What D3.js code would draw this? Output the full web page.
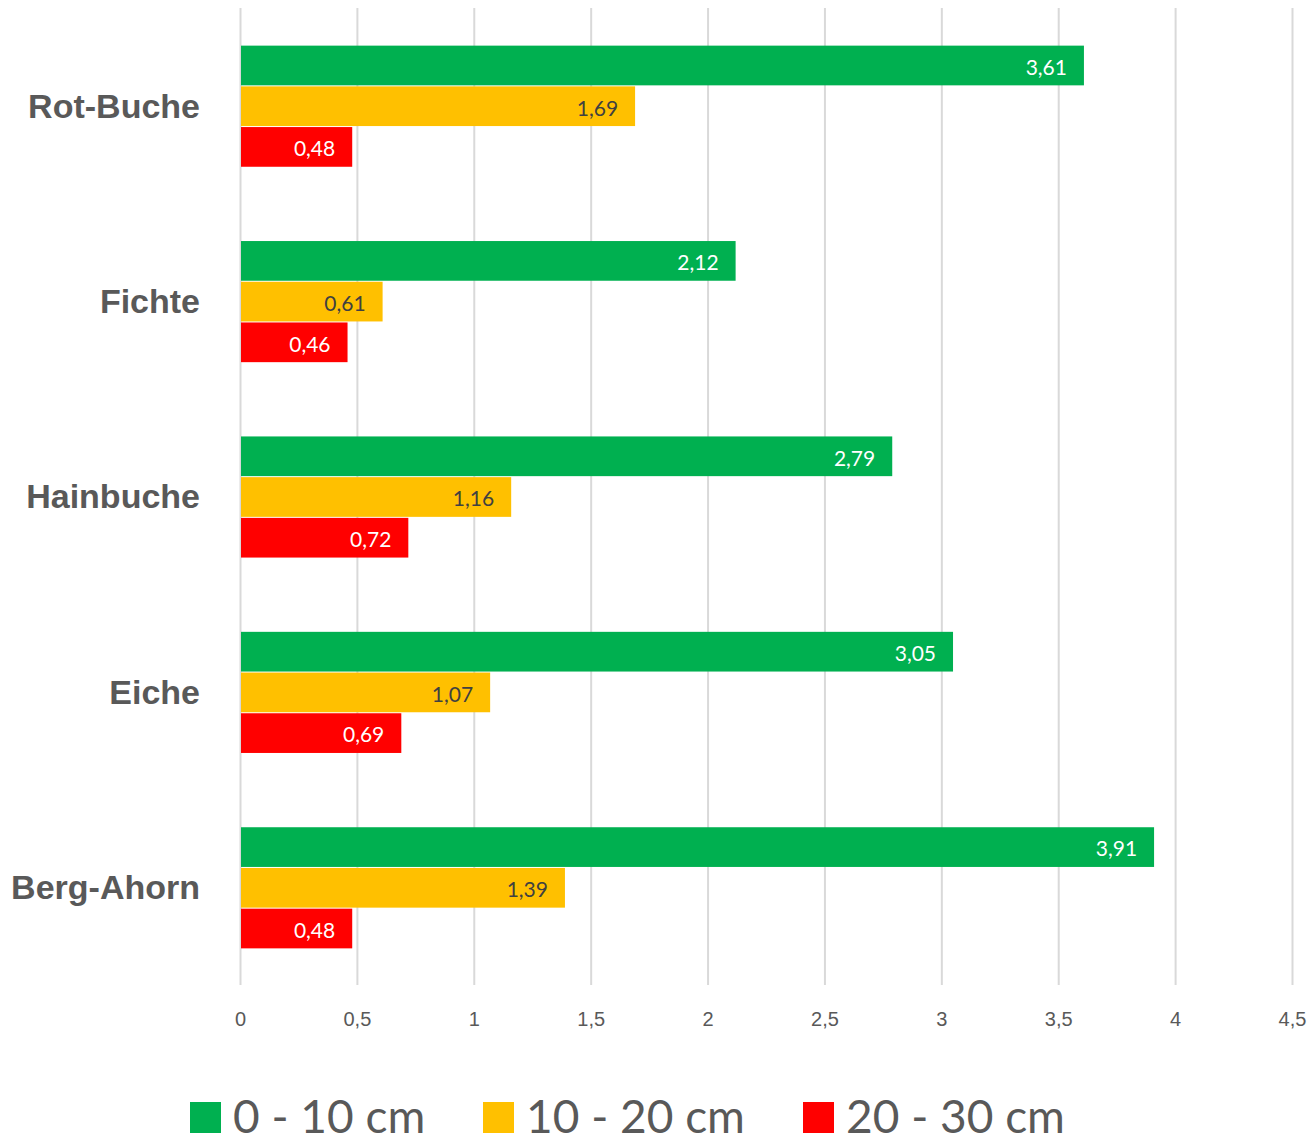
<!DOCTYPE html>
<html>
<head>
<meta charset="utf-8">
<script src="https://cdn.jsdelivr.net/npm/d3@7"></script>
<style>
  body { margin: 0; background: #fff; }
  svg { font-family: Lato, "Open Sans", sans-serif; }
  .grid line { stroke: #d9d9d9; stroke-width: 2; }
  .grid path { display: none; }
  .axis--x text { fill: #595959; font-size: 20px; }
  .axis--y text { fill: #595959; font-size: 34px; font-weight: bold; }
  .legend text { fill: #595959; font-size: 46px; }
</style>
</head>
<body>
<svg width="1309" height="1143"></svg>
<script>
var categories = ["Rot-Buche", "Fichte", "Hainbuche", "Eiche", "Berg-Ahorn"];
var seriesNames = ["0 - 10 cm", "10 - 20 cm", "20 - 30 cm"];
var seriesColors = ["#00b050", "#ffc000", "#ff0000"];
var labelColors = ["#ffffff", "#404040", "#ffffff"];
var small = [3.61, 2.12, 2.79, 3.05, 3.91];
var medium = [1.69, 0.61, 1.16, 1.07, 1.39];
var large = [0.48, 0.46, 0.72, 0.69, 0.48];
var xTicks = [0, 0.5, 1, 1.5, 2, 2.5, 3, 3.5, 4, 4.5];

var values = [small, medium, large];

var svg = d3.select("svg"),
    margin = {top: 9, right: 17, bottom: 157, left: 240},
    width = +svg.attr("width") - margin.left - margin.right,
    height = +svg.attr("height") - margin.top - margin.bottom,
    g = svg.append("g").attr("transform", "translate(" + margin.left + "," + margin.top + ")");

var fmt = function(v) { return String(v).replace(".", ","); };

var x = d3.scaleLinear().domain([0, 4.5]).range([0, width]);
var y = d3.scaleBand().domain(categories).range([0, height]).paddingInner(0.375).paddingOuter(0.1875);
var y1 = d3.scaleBand().domain(d3.range(seriesNames.length)).range([0, y.bandwidth()]);

// gridlines
g.append("g")
    .attr("class", "grid")
    .attr("transform", "translate(0,-1)")
    .call(d3.axisBottom(x).tickValues(xTicks).tickSize(height).tickFormat(""));

// x axis labels
g.append("g")
    .attr("class", "axis axis--x")
    .attr("transform", "translate(0," + height + ")")
    .call(d3.axisBottom(x).tickValues(xTicks).tickSize(0).tickPadding(26).tickFormat(fmt))
    .call(function(a) { a.select(".domain").remove(); });

// category labels
g.append("g")
    .attr("class", "axis axis--y")
    .attr("transform", "translate(-40,0)")
    .call(d3.axisLeft(y).tickSize(0).tickPadding(0))
    .call(function(a) { a.select(".domain").remove(); });

var rows = categories.map(function(c, i) {
    return values.map(function(s, k) { return {cat: c, k: k, v: s[i]}; });
});

var group = g.selectAll(".group")
    .data(rows)
    .enter().append("g")
    .attr("class", "group")
    .attr("transform", function(d, i) { return "translate(0," + y(categories[i]) + ")"; });

group.selectAll("rect")
    .data(function(d) { return d; })
    .enter().append("rect")
    .attr("x", x(0) + 1)
    .attr("y", function(d) { return y1(d.k); })
    .attr("width", function(d) { return x(d.v) - x(0) - 1; })
    .attr("height", y1.bandwidth() - 1)
    .attr("fill", function(d) { return seriesColors[d.k]; });

group.selectAll("text")
    .data(function(d) { return d; })
    .enter().append("text")
    .attr("x", function(d) { return x(d.v) - 17; })
    .attr("y", function(d) { return y1(d.k) + y1.bandwidth() / 2; })
    .attr("dy", "0.42em")
    .attr("text-anchor", "end")
    .attr("font-size", 21)
    .attr("fill", function(d) { return labelColors[d.k]; })
    .text(function(d) { return fmt(d.v); });

// legend
var legendX = [190, 483, 803];
var legend = svg.append("g").attr("class", "legend");
var item = legend.selectAll("g")
    .data(seriesNames)
    .enter().append("g")
    .attr("transform", function(d, i) { return "translate(" + legendX[i] + ",1102)"; });
item.append("rect")
    .attr("width", 31)
    .attr("height", 31)
    .attr("fill", function(d, i) { return seriesColors[i]; });
item.append("text")
    .attr("x", 43)
    .attr("y", 31)
    .text(function(d) { return d; });
</script>
</body>
</html>
